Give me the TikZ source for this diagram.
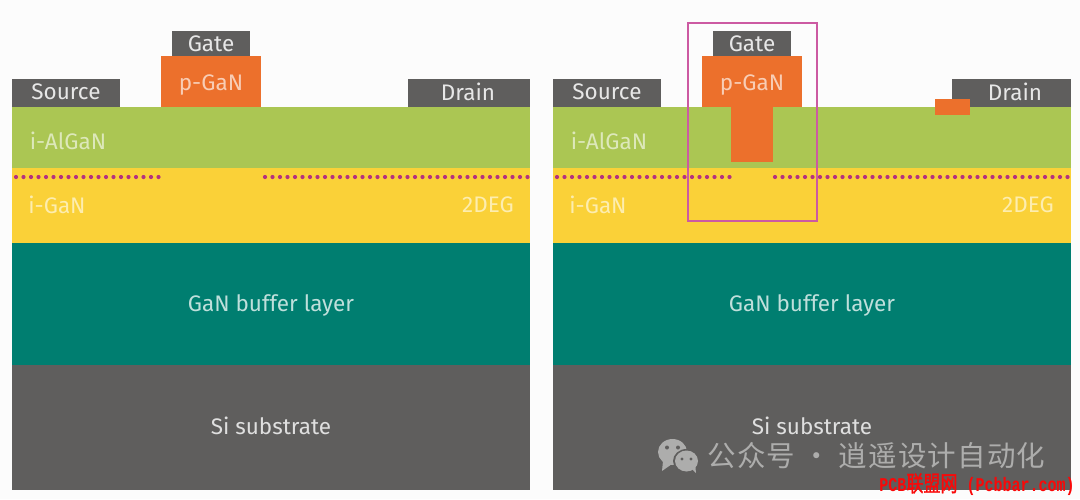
\documentclass[tikz,border=0pt]{standalone}
\usepackage{fontspec}
\setmainfont{Fira Sans}
\newfontfamily\cjkfont[LetterSpace=4]{Noto Sans CJK SC}
\newfontfamily\cjkred[FakeBold=1.5]{Noto Sans CJK SC}
\newfontfamily\monored{Liberation Mono Bold}
\usepackage{tikz}
\usetikzlibrary{positioning}

\definecolor{AlGaNCol}{HTML}{ABC653}
\definecolor{GaNCol}{HTML}{FAD138}
\definecolor{BufferCol}{HTML}{007E70}
\definecolor{SiCol}{HTML}{5F5E5D}
\definecolor{PGaNCol}{HTML}{EC702C}
\definecolor{DotCol}{HTML}{B5327E}
\definecolor{BoxCol}{HTML}{CC5AA2}
\definecolor{MarkCol}{HTML}{ADADAC}

\begin{document}
\begin{tikzpicture}[x=1pt,y=-1pt]
	\tikzstyle{Layer}	= [rectangle, inner sep=0pt, minimum width=518pt]
	\tikzstyle{Block}	= [rectangle, inner sep=0pt, font=\fontsize{22.5}{24}\selectfont, text=white!85!SiCol]
	\tikzstyle{Metal}	= [Block, fill=SiCol]
	\tikzstyle{Doped}	= [Block, fill=PGaNCol]
	\tikzstyle{Tag}		= [inner sep=0pt, font=\fontsize{22.5}{24}\selectfont]
	\tikzstyle{Carrier}	= [line width=4.2pt, line cap=round, dash pattern=on 0pt off 7.5pt, DotCol]
	\tikzstyle{Frame}	= [rectangle, draw=BoxCol, line width=1.5pt, inner sep=0pt, minimum width=129pt, minimum height=198pt]

	\useasboundingbox [fill=white!99!black] (0,0) rectangle (1080,499);

	% left device
	\node (lSi) at (271,427.5) [Layer, fill=SiCol, minimum height=125pt] {};
	\node (lSiLabel) at (271,426) [Tag, text=white!80!SiCol] {Si substrate};
	\node (lBuffer) at (271,304) [Layer, fill=BufferCol, minimum height=122pt] {};
	\node (lBufLabel) at (271,305) [Tag, text=white!75!BufferCol] {GaN buffer layer};
	\node (lGaN) at (271,205.5) [Layer, fill=GaNCol, minimum height=75pt] {};
	\node (lAlGaN) at (271,137.5) [Layer, fill=AlGaNCol, minimum height=61pt] {};
	\node (lSource) at (66,93) [Metal, minimum width=108pt, minimum height=28pt] {};
	\node (lSrcLabel) at (66,92) [Tag, text=white!85!SiCol] {Source};
	\node (lDrain) at (469,93) [Metal, minimum width=122pt, minimum height=28pt] {};
	\node (lDrnLabel) at (468,92) [Tag, text=white!85!SiCol] {Drain};
	\node (lPGaN) at (211,81.5) [Doped, minimum width=100pt, minimum height=51pt] {};
	\node (lGate) at (211,43.5) [Metal, minimum width=78pt, minimum height=25pt] {Gate};
	\node (lPLabel) at (211,85) [Tag, text=white!65!PGaNCol] {p-GaN};
	\node (lALabel) at (68,140.5) [Tag, text=white!60!AlGaNCol] {i-AlGaN};
	\node (lGLabel) at (57,204.5) [Tag, text=white!60!GaNCol] {i-GaN};
	\node (lDeg) at (488,205) [Tag, text=white!60!GaNCol] {2DEG};
	\coordinate (lDotA) at (16,177);
	\coordinate (lDotB) at (159,177);
	\coordinate (lDotC) at (265,177);
	\coordinate (lDotD) at (530,177);
	\draw [Carrier] (lDotA) -- (lDotB);
	\draw [Carrier] (lDotC) -- (lDotD);

	% right device
	\node (rSi) at (812,427.5) [Layer, fill=SiCol, minimum height=125pt] {};
	\node (rSiLabel) at (812,426) [Tag, text=white!80!SiCol] {Si substrate};
	\node (rBuffer) at (812,304) [Layer, fill=BufferCol, minimum height=122pt] {};
	\node (rBufLabel) at (812,305) [Tag, text=white!75!BufferCol] {GaN buffer layer};
	\node (rGaN) at (812,205.5) [Layer, fill=GaNCol, minimum height=75pt] {};
	\node (rAlGaN) at (812,137.5) [Layer, fill=AlGaNCol, minimum height=61pt] {};
	\node (rSource) at (607,93) [Metal, minimum width=108pt, minimum height=28pt] {};
	\node (rSrcLabel) at (607,92) [Tag, text=white!85!SiCol] {Source};
	\node (rDrain) at (1011.5,93) [Metal, minimum width=119pt, minimum height=28pt] {};
	\node (rDrnLabel) at (1015,92) [Tag, text=white!85!SiCol] {Drain};
	\node (rStem) at (752,134.5) [Doped, minimum width=42pt, minimum height=55pt] {};
	\node (rPGaN) at (752,81.5) [Doped, minimum width=100pt, minimum height=51pt] {};
	\node (rGate) at (752,43.5) [Metal, minimum width=78pt, minimum height=25pt] {Gate};
	\node (rPLabel) at (752,85) [Tag, text=white!65!PGaNCol] {p-GaN};
	\node (rSpot) at (952.5,107) [Doped, minimum width=35pt, minimum height=16pt] {};
	\node (rALabel) at (609,140.5) [Tag, text=white!60!AlGaNCol] {i-AlGaN};
	\node (rGLabel) at (598,204.5) [Tag, text=white!60!GaNCol] {i-GaN};
	\node (rDeg) at (1028,205) [Tag, text=white!60!GaNCol] {2DEG};
	\coordinate (rDotA) at (557,177);
	\coordinate (rDotB) at (731,177);
	\coordinate (rDotC) at (775,177);
	\coordinate (rDotD) at (1071,177);
	\draw [Carrier] (rDotA) -- (rDotB);
	\draw [Carrier] (rDotC) -- (rDotD);
	\node (rFrame) at (752.5,122) [Frame] {};

	% marks on top of the picture
	\fill [MarkCol] (672.5,452) ellipse (14.5pt and 13pt);
	\fill [MarkCol] (663,461) -- (662,471) -- (672,464) -- cycle;
	\fill [SiCol] (686.5,461) ellipse (13.5pt and 12pt);
	\fill [MarkCol] (686.5,461) ellipse (11.5pt and 10.5pt);
	\fill [MarkCol] (691,468) -- (696,473) -- (695,463) -- cycle;
	\fill [SiCol] (667,447.5) circle (2pt) (678,447.5) circle (2pt) (682,459) circle (1.7pt) (691,459) circle (1.7pt);
	\node (markText) at (876.5,456) [inner sep=0pt, text=MarkCol, font=\fontsize{28.5}{30}\cjkfont] {公众号 · 逍遥设计自动化};
	\node (redText) at (977,484.5) [inner sep=0pt, text={rgb,255:red,250;green,8;blue,8}] {\scalebox{1}[1.3]{\fontsize{15}{18}\monored PCB{\fontsize{17}{18}\cjkred 联盟网} (Pcbbar.com)}};
\end{tikzpicture}
\end{document}
